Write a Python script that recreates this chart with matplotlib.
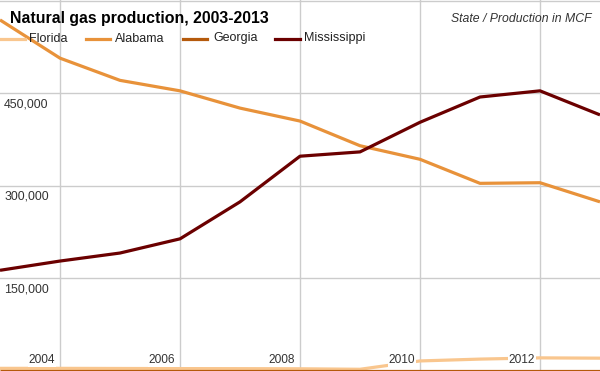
import matplotlib
matplotlib.use("Agg")
import matplotlib.pyplot as plt

years = list(range(2003, 2014))
florida = [4000, 4000, 3800, 3600, 3500, 3300, 2500, 16000, 19000, 21000, 20500]
alabama = [569000, 507000, 471000, 454000, 426000, 405000, 365000, 343000, 304000, 305000, 274000]
georgia = [0, 0, 0, 0, 0, 0, 0, 0, 0, 0, 0]
mississippi = [163000, 178000, 191000, 214000, 274000, 348000, 355000, 403000, 444000, 454000, 415000]

series_names = ["Florida", "Alabama", "Georgia", "Mississippi"]
colors = ["#F9C68E", "#E8923A", "#B55A0C", "#6B0000"]
xticks = [2004, 2006, 2008, 2010, 2012]
yticks = [150000, 300000, 450000]
ytick_labels = ["150,000", "300,000", "450,000"]

plt.rcParams['font.family'] = ['Liberation Sans', 'DejaVu Sans']

fig = plt.figure(figsize=(6, 3.71), dpi=100)
ax = fig.add_axes([0, 0, 1, 1])
ax.set_xlim(2003, 2013)
ax.set_ylim(-300, 601300)

for xv in xticks:
    ax.axvline(xv, color="#cccccc", lw=1, zorder=0)
for yv in yticks + [600000]:
    ax.axhline(yv, color="#cccccc", lw=1, zorder=0)

data = [florida, alabama, georgia, mississippi]
for name, vals, c in zip(series_names, data, colors):
    ax.plot(years, vals, color=c, lw=2.3, solid_capstyle="butt", zorder=3)

ax.set_xticks([])
ax.set_yticks([])
for s in ax.spines.values():
    s.set_visible(False)

for xv in xticks:
    ax.annotate(str(xv), xy=(xv, 0), xycoords="data", xytext=(-3.5, 3.5), textcoords="offset points",
                ha="right", va="bottom", fontsize=8.6, color="#333333", zorder=4,
                bbox=dict(boxstyle="square,pad=0.05", fc="white", ec="none"))
for yv, lab in zip(yticks, ytick_labels):
    ax.annotate(lab, xy=(2003, yv), xycoords="data", xytext=(3, -3.5), textcoords="offset points",
                ha="left", va="top", fontsize=8.9, color="#333333", zorder=4)

fig.text(10/600, 1 - 18.5/371, "Natural gas production, 2003-2013", fontsize=11.4, fontweight="bold",
         ha="left", va="center", color="black")
fig.text(592/600, 1 - 19.5/371, "State / Production in MCF", fontsize=8.8, style="italic",
         ha="right", va="center", color="#333333")

leg_y = 1 - 38.5/371
leg_items = [(0, 25, 29), (86, 110, 115), (183, 207, 213), (275, 300, 304)]
for (x0, x1, xt), name, c in zip(leg_items, series_names, colors):
    fig.add_artist(plt.Line2D([x0/600, x1/600], [leg_y, leg_y], color=c, lw=2.3, transform=fig.transFigure))
    fig.text(xt/600, leg_y, name, fontsize=9, ha="left", va="center", color="#222222")

fig.savefig("out.png", dpi=100)
